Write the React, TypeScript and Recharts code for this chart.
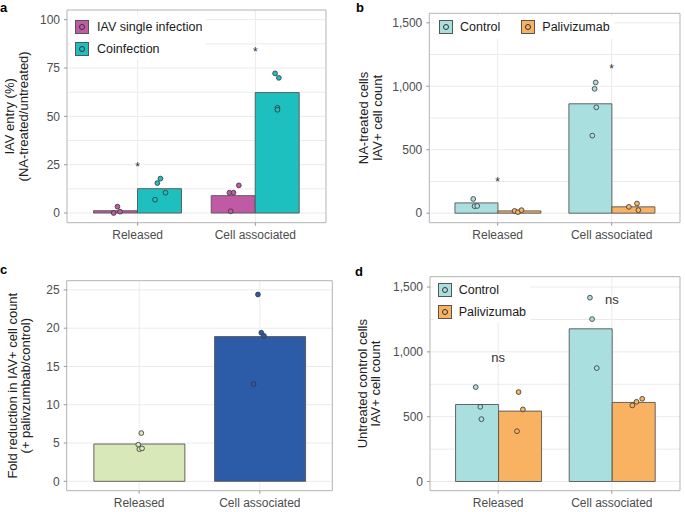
import React from 'react';
import { ComposedChart, Bar, Cell, Scatter, XAxis, YAxis, CartesianGrid, ReferenceArea } from 'recharts';

const FONT = '"Liberation Sans", Arial, sans-serif';

const categories = ['Released', 'Cell associated'];

// panel a
const aSingle = [1.2, 9.0];
const aCoinf = [12.6, 62.3];
const aSinglePts = [[3.3, 0, 0.7], [14.3, 10.5, 10.5, 0.9]];
const aSingleJit = [[0.016, -0.016, 0.038], [0.047, -0.033, 0.002, -0.022]];
const aCoinfPts = [[17.8, 15.5, 10.5, 6.9], [72.2, 69.9, 54.4, 53.4]];
const aCoinfJit = [[0.006, -0.02, 0.049, -0.04], [-0.02, 0.012, 0, 0]];
const aMarks = [25, 84.5];

// panel b
const bControl = [81, 862];
const bPaliv = [18, 50];
const bControlPts = [[112, 55, 57], [1030, 980, 834, 611]];
const bControlJit = [[-0.027, -0.015, 0.008], [0.048, 0.038, 0.053, 0.018]];
const bPalivPts = [[18, 8, 24], [50, 76, 24]];
const bPalivJit = [[-0.039, -0.01, 0.022], [-0.036, 0.035, 0.047]];
const bMarks = [264, 1152];

// panel c
const cFold = [4.87, 18.9];
const cFoldPts = [[6.3, 4.78, 4.2, 4.3], [24.4, 19.4, 19.0, 12.7]];
const cFoldJit = [[0.018, -0.007, 0.002, 0.024], [-0.016, 0.012, 0.034, -0.052]];

// panel d
const dControl = [594, 1178];
const dPaliv = [543, 610];
const dControlPts = [[728, 576, 481], [1418, 1253, 875]];
const dControlJit = [[-0.01, 0.03, 0.04], [-0.005, 0.014, 0.055]];
const dPalivPts = [[690, 556, 388], [587, 615, 638]];
const dPalivJit = [[-0.008, 0.03, -0.022], [-0.007, 0.03, 0.08]];
const dMarks = [952, 1397];

const C_MAG = '#c05aa5';
const C_CYAN = '#1dbfbf';
const C_LTEAL = '#aadfdf';
const C_ORANGE = '#f8b262';
const C_GREEN = '#d9e8b9';
const C_BLUE = '#2c5ca8';

function jitterPoints(vals: number[][], jit: number[][], dodge: number) {
  const out: { x: number; y: number }[] = [];
  vals.forEach((row, i) => row.forEach((v, j) => out.push({ x: i + 1 + dodge + jit[i][j], y: v })));
  return out;
}

const dotShape = (color: string) => (p: any) => (
  <circle cx={p.cx} cy={p.cy} r={2.4} fill={color} stroke="#333" strokeWidth={0.8} />
);

const markShape = (text: string) => (p: any) => (
  <text x={p.cx} y={p.cy + (text === '*' ? 6 : 3.5)} textAnchor="middle" fontSize={text === '*' ? 12 : 13} fill="#333" fontFamily={FONT}>
    {text}
  </text>
);

function Legend({ items, layout, x, y, textX, gap }: any) {
  return (
    <div style={{ position: 'absolute', left: x - 4, top: y - 4, background: '#fff', padding: 4, display: 'flex', flexDirection: layout === 'row' ? 'row' : 'column', gap }}>
      {items.map((it: any) => (
        <div key={it.name} style={{ display: 'flex', alignItems: 'center', height: 15 }}>
          <div style={{ width: 14, height: 14, boxSizing: 'border-box', border: '1px solid #555', background: it.color, display: 'flex', alignItems: 'center', justifyContent: 'center' }}>
            <div style={{ width: 4, height: 4, borderRadius: '50%', border: '1px solid #333' }} />
          </div>
          <span style={{ marginLeft: textX, fontSize: 12.5, color: '#1a1a1a', fontFamily: FONT }}>{it.name}</span>
        </div>
      ))}
    </div>
  );
}

function Panel(props: any) {
  const { left, top, width, height, margin, yWidth, domain, ticks, minor, bars, points, marks, markText, title, titleX, letter, letterPos, legend } = props;
  const plotW = width - margin.left - yWidth - margin.right;
  const pad = plotW / 22;
  const data = categories.map((c, i) => {
    const row: any = { cat: c };
    bars.forEach((b: any, k: number) => (row['s' + k] = b.values[i]));
    return row;
  });
  const plotMidY = margin.top + (height - margin.top - margin.bottom - 20) / 2;
  return (
    <div style={{ position: 'absolute', left, top, width, height }}>
      <ComposedChart width={width} height={height} data={data} margin={margin} barCategoryGap="12.5%" barGap={0}>
        <CartesianGrid xAxisId="num" horizontalValues={minor} verticalValues={[1, 2]} stroke="#ebebeb" />
        <XAxis xAxisId="cat" dataKey="cat" type="category" padding={{ left: pad, right: pad }} height={20} axisLine={false} tickSize={3} tickMargin={5} tickLine={{ stroke: '#999' }} tick={{ fontSize: 12, fill: '#4d4d4d', fontFamily: FONT }} />
        <XAxis xAxisId="num" dataKey="x" type="number" domain={[0.4, 2.6]} allowDataOverflow hide />
        <YAxis type="number" width={yWidth} domain={domain} ticks={ticks} allowDataOverflow axisLine={false} tickSize={3} tickMargin={4} tickLine={{ stroke: '#999' }} tick={{ fontSize: 12, fill: '#4d4d4d', fontFamily: FONT }} tickFormatter={(v: number) => v.toLocaleString('en-US')} />
        {bars.map((b: any, k: number) => (
          <Bar key={k} xAxisId="cat" dataKey={'s' + k} fill={b.color} stroke="#555" strokeWidth={0.9} isAnimationActive={false}>
            {b.cellColors && b.cellColors.map((c: string, i: number) => <Cell key={i} fill={c} />)}
          </Bar>
        ))}
        {points.map((p: any, k: number) => (
          <Scatter key={'p' + k} xAxisId="num" data={p.data} dataKey="y" shape={dotShape(p.color)} isAnimationActive={false} />
        ))}
        {marks && (
          <Scatter xAxisId="num" data={marks.map((v: number, i: number) => ({ x: i + 1, y: v }))} dataKey="y" shape={markShape(markText)} isAnimationActive={false} />
        )}
        <ReferenceArea xAxisId="num" x1={0.4} x2={2.6} y1={domain[0]} y2={domain[1]} fill="none" stroke="#b3b3b3" strokeWidth={1} ifOverflow="visible" />
      </ComposedChart>
      <svg width={width} height={height} style={{ position: 'absolute', left: 0, top: 0, pointerEvents: 'none' }}>
        <text x={letterPos[0]} y={letterPos[1]} fontSize={13} fontWeight="bold" fontFamily={FONT} fill="#000">{letter}</text>
        {title.map((t: string, i: number) => (
          <text key={i} transform={`translate(${titleX[i]},${plotMidY}) rotate(-90)`} textAnchor="middle" dominantBaseline="central" fontSize={13} fontFamily={FONT} fill="#222">
            {t}
          </text>
        ))}
      </svg>
      {legend && <Legend {...legend} />}
    </div>
  );
}

const range = (a: number, b: number, s: number) => {
  const out: number[] = [];
  for (let v = a; v <= b + 1e-9; v += s) out.push(v);
  return out;
};

export default function App() {
  return (
    <div style={{ position: 'absolute', left: 0, top: 0, width: 685, height: 512, background: '#fff', fontFamily: FONT }}>
      <Panel
        left={0} top={0} width={340} height={256}
        margin={{ top: 10, right: 14, bottom: 13.3, left: 37 }} yWidth={30}
        domain={[-5, 105]} ticks={[0, 25, 50, 75, 100]} minor={range(0, 100, 12.5)}
        bars={[{ values: aSingle, color: C_MAG }, { values: aCoinf, color: C_CYAN }]}
        points={[
          { data: jitterPoints(aSinglePts, aSingleJit, -0.1875), color: C_MAG },
          { data: jitterPoints(aCoinfPts, aCoinfJit, 0.1875), color: C_CYAN },
        ]}
        marks={aMarks} markText="*"
        title={['IAV entry (%)', '(NA-treated/untreated)']} titleX={[9.5, 23]}
        letter="a" letterPos={[0, 12]}
        legend={{ items: [{ name: 'IAV single infection', color: C_MAG }, { name: 'Coinfection', color: C_CYAN }], layout: 'col', x: 75, y: 19, textX: 8, gap: 7 }}
      />
      <Panel
        left={340} top={0} width={345} height={256}
        margin={{ top: 13.3, right: 5, bottom: 13.3, left: 49.3 }} yWidth={40}
        domain={[-75, 1575]} ticks={[0, 500, 1000, 1500]} minor={range(0, 1500, 250)}
        bars={[{ values: bControl, color: C_LTEAL }, { values: bPaliv, color: C_ORANGE }]}
        points={[
          { data: jitterPoints(bControlPts, bControlJit, -0.1875), color: C_LTEAL },
          { data: jitterPoints(bPalivPts, bPalivJit, 0.1875), color: C_ORANGE },
        ]}
        marks={bMarks} markText="*"
        title={['NA-treated cells', 'IAV+ cell count']} titleX={[23.5, 37]}
        letter="b" letterPos={[16, 12]}
        legend={{ items: [{ name: 'Control', color: C_LTEAL }, { name: 'Palivizumab', color: C_ORANGE }], layout: 'row', x: 99, y: 19.5, textX: 7, gap: 21 }}
      />
      <Panel
        left={0} top={256} width={340} height={256}
        margin={{ top: 24.7, right: 7.7, bottom: 1.3, left: 36.7 }} yWidth={30}
        domain={[-1.225, 26.2]} ticks={[0, 5, 10, 15, 20, 25]} minor={range(0, 25, 2.5)}
        bars={[{ values: cFold, color: C_GREEN, cellColors: [C_GREEN, C_BLUE] }]}
        points={[
          { data: jitterPoints([cFoldPts[0]], [cFoldJit[0]], 0), color: C_GREEN },
          { data: jitterPoints([cFoldPts[1]], [cFoldJit[1]], 1), color: C_BLUE },
        ]}
        title={['Fold reduction in IAV+ cell count', '(+ palivzumbab/control)']} titleX={[12, 25.5]}
        letter="c" letterPos={[0, 18]}
      />
      <Panel
        left={340} top={256} width={345} height={256}
        margin={{ top: 20.7, right: 5, bottom: 1.3, left: 50 }} yWidth={40}
        domain={[-71, 1580]} ticks={[0, 500, 1000, 1500]} minor={range(0, 1500, 250)}
        bars={[{ values: dControl, color: C_LTEAL }, { values: dPaliv, color: C_ORANGE }]}
        points={[
          { data: jitterPoints(dControlPts, dControlJit, -0.1875), color: C_LTEAL },
          { data: jitterPoints(dPalivPts, dPalivJit, 0.1875), color: C_ORANGE },
        ]}
        marks={dMarks} markText="ns"
        title={['Untreated control cells', 'IAV+ cell count']} titleX={[22.5, 35.5]}
        letter="d" letterPos={[15, 20]}
        legend={{ items: [{ name: 'Control', color: C_LTEAL }, { name: 'Palivizumab', color: C_ORANGE }], layout: 'col', x: 97.7, y: 26.3, textX: 7, gap: 7 }}
      />
    </div>
  );
}
